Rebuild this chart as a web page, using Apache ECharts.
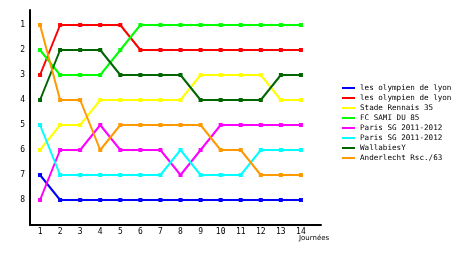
<!DOCTYPE html>
<html>
<head>
<meta charset="utf-8">
<script src="https://cdn.jsdelivr.net/npm/echarts@6/dist/echarts.min.js"></script>
<style>html,body{margin:0;padding:0;background:#fff}#c{width:460px;height:255px}</style>
</head>
<body>
<div id="c"></div>
<script>
var days = [1,2,3,4,5,6,7,8,9,10,11,12,13,14];
var rankTicks = [1,2,3,4,5,6,7,8];
var xName = 'Journées';
var names = ['les olympien de lyon','les olympien de lyon ','Stade Rennais 35','FC SAMI DU 85','Paris SG 2011-2012','Paris SG 2011-2012 ','WallabiesY','Anderlecht Rsc./63'];
var legendLabels = ['les olympien de lyon','les olympien de lyon','Stade Rennais 35','FC SAMI DU 85','Paris SG 2011-2012','Paris SG 2011-2012','WallabiesY','Anderlecht Rsc./63'];
var colors = ['#0000ff','#ff0000','#ffff00','#00ff00','#ff00ff','#00ffff','#006600','#ff9900'];
var lyon1 = [7,8,8,8,8,8,8,8,8,8,8,8,8,8];
var lyon2 = [3,1,1,1,1,2,2,2,2,2,2,2,2,2];
var rennes = [6,5,5,4,4,4,4,4,3,3,3,3,4,4];
var sami = [2,3,3,3,2,1,1,1,1,1,1,1,1,1];
var psg1 = [8,6,6,5,6,6,6,7,6,5,5,5,5,5];
var psg2 = [5,7,7,7,7,7,7,6,7,7,7,6,6,6];
var wallabies = [4,2,2,2,3,3,3,3,4,4,4,4,3,3];
var anderlecht = [1,4,4,6,5,5,5,5,5,6,6,7,7,7];
var allData = [lyon1,lyon2,rennes,sami,psg1,psg2,wallabies,anderlecht];

var chart = echarts.init(document.getElementById('c'));
var series = allData.map(function(d,i){
  return {
    name: names[i], type:'line', data: d.map(function(v,j){return [days[j],v];}),
    symbol:'rect', symbolSize:4, color: colors[i],
    lineStyle:{width:2,color:colors[i]}, itemStyle:{color:colors[i]},
    animation:false
  };
});
var nameMap = {};
names.forEach(function(n,i){nameMap[n]=legendLabels[i];});
chart.setOption({
  animation:false,
  grid:{left:30,right:139,top:10,bottom:30},
  legend:{
    orient:'vertical', left:337, top:78, itemWidth:13, itemHeight:2, itemGap:0,
    icon:'rect', data:names,
    formatter:function(n){return nameMap[n];},
    textStyle:{fontFamily:'DejaVu Sans Mono',fontSize:7.6,color:'#000',lineHeight:10}
  },
  graphic:[{
    type:'text', left:299, top:235,
    style:{text:xName, fontFamily:'DejaVu Sans', fontSize:7, fill:'#000'}
  }],
  xAxis:{
    type:'value', min:0.5, max:15,
    axisLine:{lineStyle:{color:'#000',width:2}},
    axisTick:{show:false},
    splitLine:{show:false},
    axisLabel:{customValues:days, color:'#000', fontFamily:'DejaVu Sans Mono', fontSize:8, margin:3}
  },
  yAxis:{
    type:'value', inverse:true, min:0.4, max:9,
    axisLine:{show:true,lineStyle:{color:'#000',width:2}},
    axisTick:{show:false},
    splitLine:{show:false},
    axisLabel:{customValues:rankTicks, color:'#000', fontFamily:'DejaVu Sans Mono', fontSize:8, margin:5}
  },
  series: series
});
</script>
</body>
</html>
